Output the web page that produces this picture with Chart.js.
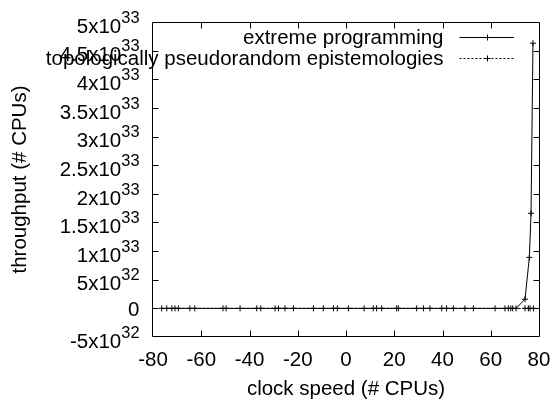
<!DOCTYPE html>
<html>
<head>
<meta charset="utf-8">
<script src="https://cdn.jsdelivr.net/npm/chart.js@4/dist/chart.umd.min.js"></script>
<style>
  html, body { margin: 0; padding: 0; background: #fff; }
  #wrap { width: 554px; height: 401px; }
</style>
</head>
<body>
<div id="wrap"><canvas id="c" width="554" height="401"></canvas></div>
<script>
// Series names (legend order)
const seriesNames = ['extreme programming', 'topologically pseudorandom epistemologies'];

// "extreme programming": flat near zero, then a sharp rise at the far right
const xProgramming = [-76.4, -72.2, -69.5, -62.7, -49.7, -37.0, -29.4, -25.3, -13.5, -5.2,
                      1.0, 11.3, 14.8, 21.7, 32.1, 39.7, 44.5, 52.8, 65.9, 68.3,
                      70.5, 74.2, 76.0, 76.7, 77.5];
const yProgramming = [0, 0, 0, 0, 0, 0, 0, 0, 0, 0,
                      0, 0, 0, 0, 0, 0, 0, 0, 0, 0,
                      0, 1.6e32, 8.9e32, 1.66e33, 4.63e33];

// "topologically pseudorandom epistemologies": stays at zero
const xEpistemologies = [-74.3, -70.9, -64.7, -51.0, -43.9, -35.3, -28.0, -21.8, -9.4, -3.6,
                         7.5, 12.7, 21.0, 29.3, 34.8, 41.7, 49.3, 61.8, 67.3, 69.1,
                         74.2, 75.6, 76.3, 77.7];
const yEpistemologies = [0, 0, 0, 0, 0, 0, 0, 0, 0, 0,
                         0, 0, 0, 0, 0, 0, 0, 0, 0, 0,
                         0, 0, 0, 0];

// Axis ticks and labels ("^" marks a superscript exponent)
const xTicks = [-80, -60, -40, -20, 0, 20, 40, 60, 80];
const xTickLabels = ['-80', '-60', '-40', '-20', '0', '20', '40', '60', '80'];
const yTicks = [-5e32, 0, 5e32, 1e33, 1.5e33, 2e33, 2.5e33, 3e33, 3.5e33, 4e33, 4.5e33, 5e33];
const yTickLabels = ['-5x10^32', '0', '5x10^32', '1x10^33', '1.5x10^33', '2x10^33',
                     '2.5x10^33', '3x10^33', '3.5x10^33', '4x10^33', '4.5x10^33', '5x10^33'];
const xTitle = 'clock speed (# CPUs)';
const yTitle = 'throughput (# CPUs)';

const FONT_FAMILY = '"Liberation Sans", Arial, Helvetica, sans-serif';
const FONT_SIZE = 20.5;
const SUP_SIZE = 16.4;
const TICK_LEN = 6;

const toPoints = (xs, ys) => xs.map((x, i) => ({ x: x, y: ys[i] }));

// Box border with inward tick marks on all four sides
const framePlugin = {
  id: 'frame',
  beforeDatasetsDraw(chart) {
    const { ctx, chartArea: a, scales } = chart;
    const L = a.left - 0.5, R = a.right + 0.5, T = a.top + 0.5, B = a.bottom - 0.5;
    ctx.save();
    ctx.strokeStyle = '#000';
    ctx.lineWidth = 1;
    ctx.beginPath();
    ctx.rect(L, T, R - L, B - T);
    // end ticks coincide with the border itself, so only inner ones are drawn
    xTicks.slice(1, -1).forEach(v => {
      const px = Math.round(scales.x.getPixelForValue(v)) + 0.5;
      ctx.moveTo(px, B); ctx.lineTo(px, B - TICK_LEN);
      ctx.moveTo(px, T); ctx.lineTo(px, T + TICK_LEN);
    });
    yTicks.slice(1, -1).forEach(v => {
      const py = Math.round(scales.y.getPixelForValue(v)) + 0.5;
      ctx.moveTo(L, py); ctx.lineTo(L + TICK_LEN, py);
      ctx.moveTo(R, py); ctx.lineTo(R - TICK_LEN, py);
    });
    ctx.stroke();
    ctx.restore();
  }
};

// Tick labels (with superscript exponents), axis titles and the key
const labelPlugin = {
  id: 'labels',
  afterDraw(chart) {
    const { ctx, chartArea: a, scales } = chart;
    const font = FONT_SIZE + 'px ' + FONT_FAMILY;
    const supFont = SUP_SIZE + 'px ' + FONT_FAMILY;
    ctx.save();
    ctx.fillStyle = '#000';
    ctx.textBaseline = 'alphabetic';

    // x tick labels
    ctx.font = font;
    ctx.textAlign = 'center';
    xTicks.forEach((v, i) => {
      ctx.fillText(xTickLabels[i], scales.x.getPixelForValue(v), a.bottom + 28.5);
    });

    // y tick labels, right-aligned
    const rightEdge = a.left - 13.5;
    yTicks.forEach((v, i) => {
      const py = scales.y.getPixelForValue(v);
      const parts = yTickLabels[i].split('^');
      ctx.textAlign = 'right';
      if (parts.length === 2) {
        ctx.font = supFont;
        const ew = ctx.measureText(parts[1]).width;
        const base = py + 10.7;
        ctx.fillText(parts[1], rightEdge, base - 10);
        ctx.font = font;
        ctx.fillText(parts[0], rightEdge - ew, base);
      } else {
        ctx.font = font;
        ctx.fillText(parts[0], rightEdge, py + 7.3);
      }
    });

    // axis titles
    ctx.font = font;
    ctx.textAlign = 'center';
    ctx.fillText(xTitle, (a.left + a.right) / 2, 395);
    ctx.save();
    ctx.translate(26, (a.top + a.bottom) / 2);
    ctx.rotate(-Math.PI / 2);
    ctx.fillText(yTitle, 0, 0);
    ctx.restore();

    // key (top right, inside the box)
    const rows = [37, 58];
    const textRight = 443.5, lineStart = 459.5, lineEnd = 514;
    chart.data.datasets.forEach((ds, i) => {
      const cy = rows[i];
      ctx.font = font;
      ctx.textAlign = 'right';
      ctx.fillText(seriesNames[i], textRight, cy + 7.3);
      ctx.strokeStyle = '#000';
      ctx.lineWidth = 1;
      ctx.setLineDash(ds.borderDash || []);
      ctx.beginPath();
      ctx.moveTo(lineStart, cy + 0.5);
      ctx.lineTo(lineEnd, cy + 0.5);
      ctx.stroke();
      ctx.setLineDash([]);
      const mx = Math.round((lineStart + lineEnd) / 2) + 0.5;
      ctx.beginPath();
      ctx.moveTo(mx - 3, cy + 0.5); ctx.lineTo(mx + 3, cy + 0.5);
      ctx.moveTo(mx, cy + 0.5 - 3); ctx.lineTo(mx, cy + 0.5 + 3);
      ctx.stroke();
    });
    ctx.restore();
  }
};

new Chart(document.getElementById('c'), {
  type: 'scatter',
  data: {
    datasets: [
      {
        label: seriesNames[0],
        data: toPoints(xProgramming, yProgramming),
        showLine: true,
        borderColor: '#000',
        backgroundColor: '#000',
        borderWidth: 1,
        pointStyle: 'cross',
        pointRadius: 3,
        pointBorderWidth: 1,
        pointBorderColor: '#000'
      },
      {
        label: seriesNames[1],
        data: toPoints(xEpistemologies, yEpistemologies),
        showLine: true,
        borderColor: '#000',
        backgroundColor: '#000',
        borderWidth: 1,
        borderDash: [2, 2],
        pointStyle: 'cross',
        pointRadius: 3,
        pointBorderWidth: 1,
        pointBorderColor: '#000'
      }
    ]
  },
  options: {
    responsive: false,
    animation: false,
    devicePixelRatio: 1,
    layout: { padding: { left: 0, right: 15, top: 22, bottom: 0 } },
    plugins: { legend: { display: false }, tooltip: { enabled: false } },
    scales: {
      x: {
        type: 'linear',
        min: -80, max: 80,
        grid: { display: false },
        border: { display: false },
        ticks: { display: false },
        afterBuildTicks: s => { s.ticks = xTicks.map(v => ({ value: v })); },
        afterFit: s => { s.height = 64; }
      },
      y: {
        type: 'linear',
        min: -5e32, max: 5e33,
        grid: { display: false },
        border: { display: false },
        ticks: { display: false },
        afterBuildTicks: s => { s.ticks = yTicks.map(v => ({ value: v })); },
        afterFit: s => { s.width = 153; }
      }
    }
  },
  plugins: [framePlugin, labelPlugin]
});
</script>
</body>
</html>
